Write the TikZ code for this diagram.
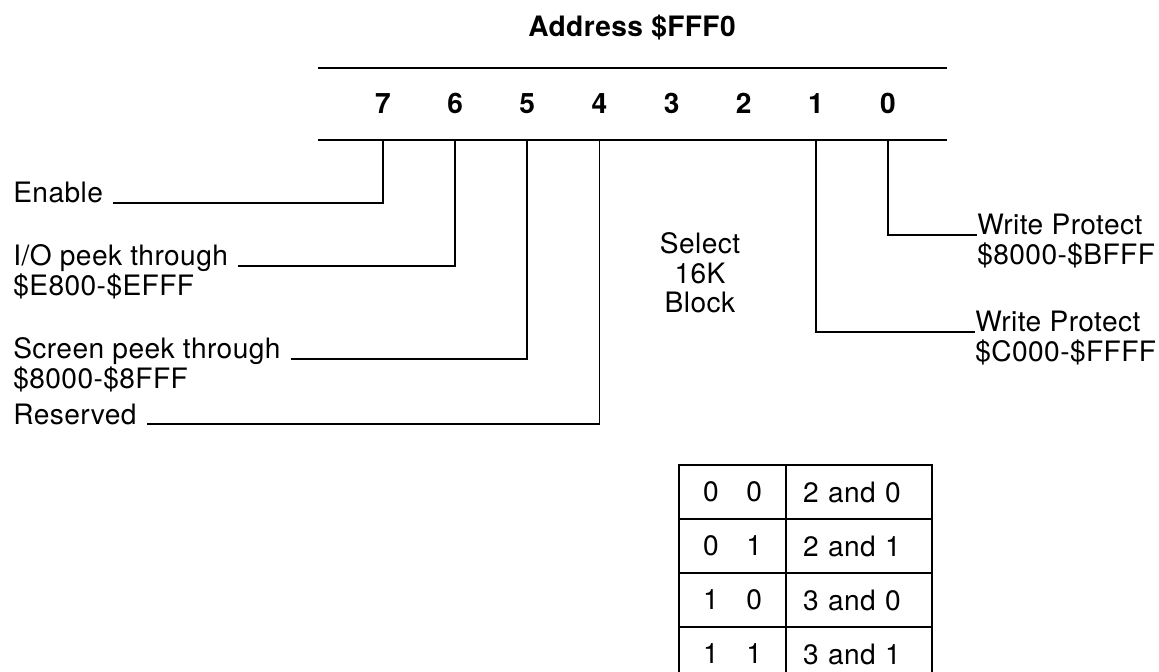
\documentclass[tikz,border=0pt]{standalone}
\usepackage{fontspec}
\setmainfont{TeX Gyre Heros}[LetterSpace=1.5]

\tikzset{
  lbl/.style={font=\fontsize{16}{16.8}\selectfont, inner sep=0pt, align=left},
  bitnum/.style={font=\fontsize{16}{16.8}\selectfont\bfseries, inner sep=0pt, anchor=base},
  rule/.style={line width=1.3pt},
  wire/.style={line width=1pt},
  cell/.style={draw, line width=1pt, font=\fontsize{16}{16.8}\selectfont, minimum height=1.08cm, inner sep=0pt}
}

\begin{document}
\begin{tikzpicture}[x=0.02cm, y=-0.02cm]
  \useasboundingbox (0,0) rectangle (1159,672);
  \clip (0,0) rectangle (1159,672);

  \node[bitnum] (title) at (632,37) {Address \$FFF0};
  \draw[rule] (318,68) -- (947,68);
  \draw[rule] (318,140) -- (947,140);

  % bit numbers, and where each one leaves the register
  \foreach \b [count=\k from 0] in {7,...,0} {
    \node[bitnum] (b\b) at (383+72.15*\k,114) {\b};
    \coordinate (t\b) at (383+72.15*\k,140);
  }

  % left hand labels (base is the last line, so lift the wire one line)
  \node[lbl, anchor=base west] (en) at (13,203) {Enable};
  \node[lbl, anchor=base west] (io) at (13,295.5) {I/O peek through\\\$E800-\$EFFF};
  \node[lbl, anchor=base west] (scr) at (13,388.5) {Screen peek through\\\$8000-\$8FFF};
  \node[lbl, anchor=base west] (res) at (13,424) {Reserved};

  \draw[wire] (t7) |- ([xshift=0.2cm]en.base east);
  \draw[wire] (t6) |- ([xshift=0.2cm, yshift=16.8pt]io.base east);
  \draw[wire] (t5) |- ([xshift=0.2cm, yshift=16.8pt]scr.base east);
  \draw[wire] (t4) |- ([xshift=0.2cm]res.base east);

  \node[lbl, align=center] (sel) at (700,273) {Select\\16K\\Block};

  % right hand labels
  \node[lbl, anchor=base west] (wp0) at (977,264.5) {Write Protect\\\$8000-\$BFFF};
  \node[lbl, anchor=base west] (wp1) at (975,361.5) {Write Protect\\\$C000-\$FFFF};

  \draw[wire] (t0) |- ([yshift=16.8pt]wp0.base west);
  \draw[wire] (t1) |- ([yshift=16.8pt]wp1.base west);

  % block table
  \foreach \hi/\lo/\blk [count=\r from 0] in {0/0/2 and 0, 0/1/2 and 1, 1/0/3 and 0, 1/1/3 and 1} {
    \node[cell, minimum width=2.14cm] (bits\r) at (732.5,492+54*\r) {\hi\hspace{0.55cm}\lo};
    \node[cell, text width=2.24cm, inner xsep=0.34cm, align=left] (blk\r) at (859,492+54*\r) {\blk};
  }
\end{tikzpicture}
\end{document}
